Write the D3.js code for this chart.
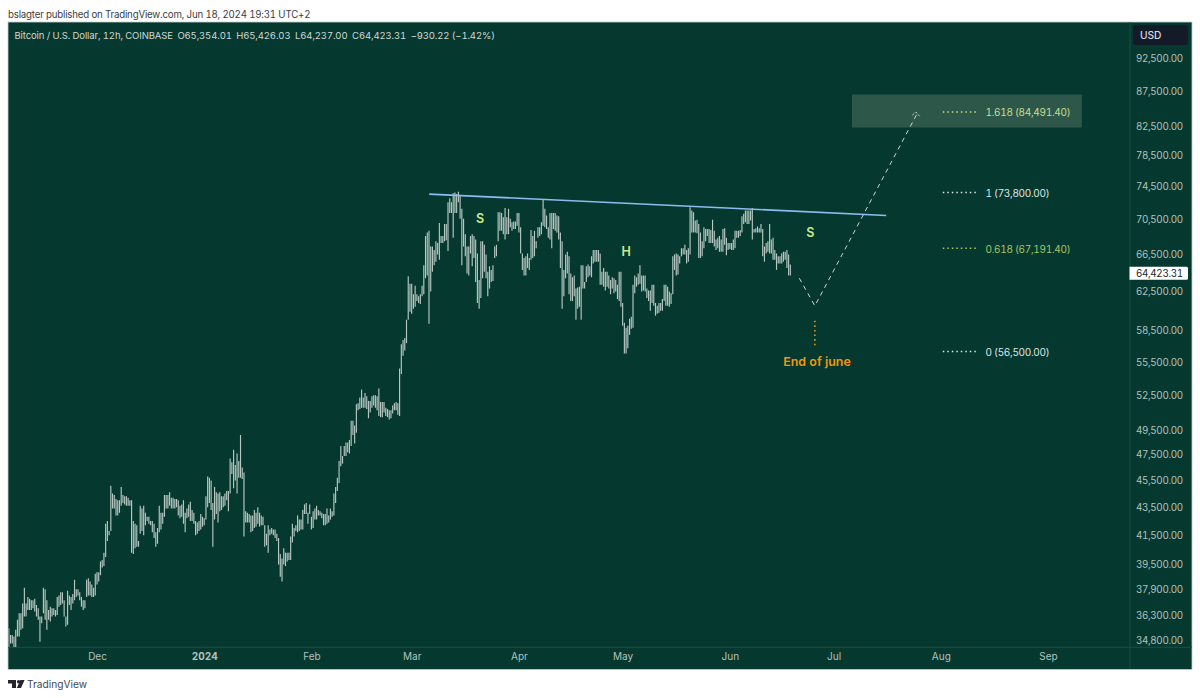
<!DOCTYPE html>
<html>
<head>
<meta charset="utf-8">
<script src="https://cdn.jsdelivr.net/npm/d3@7"></script>
<style>
html,body{margin:0;padding:0;background:#fff;}
svg{display:block;}
text{font-family:Inter,"Noto Sans",sans-serif;font-feature-settings:"tnum" 1;}
</style>
</head>
<body>
<svg id="c" width="1200" height="698"></svg>
<script>
// 12h bars, thousands of USD.
const lastBar = "2024-06-18T12:00Z";
const highs = [
35.5,35.1,35.1,35.0,35.4,36.0,36.4,36.4,37.0,38.0,
37.0,37.4,37.3,37.2,37.2,37.3,36.9,36.7,36.2,36.2,
38.0,37.9,37.2,36.6,36.8,36.7,36.7,36.6,37.4,37.5,
37.7,37.7,37.2,36.2,37.8,37.5,37.4,37.6,38.5,37.9,
37.9,37.7,37.4,37.2,37.2,38.5,38.6,38.4,38.2,38.0,
38.9,39.0,39.0,39.7,39.8,40.3,42.3,42.5,41.8,45.1,
44.5,44.4,44.1,44.0,44.0,45.0,44.4,44.3,44.3,44.2,
44.0,44.0,42.5,42.3,42.2,41.1,43.6,43.4,43.6,43.1,
42.8,42.8,42.5,42.5,42.3,41.7,42.0,43.6,43.1,43.1,
44.4,44.4,44.4,44.6,44.2,44.2,44.1,44.1,44.0,43.6,
43.7,44.0,43.1,43.4,43.7,43.9,43.3,43.1,42.5,42.4,42.5,
43.0,42.8,42.7,44.3,45.8,45.7,45.5,43.8,45.0,44.6,
44.5,44.6,44.3,44.3,44.5,44.7,44.7,47.2,46.9,47.9,
46.7,47.6,47.0,49.1,46.5,46.1,43.2,43.1,43.0,42.9,
42.9,43.3,43.1,43.5,43.1,42.9,42.8,42.2,41.6,42.2,
41.9,42.0,41.9,41.9,41.6,41.3,40.2,39.9,40.6,40.3,
40.3,40.3,41.4,42.3,42.0,42.2,42.9,42.6,42.6,43.3,
43.7,43.8,43.1,43.7,42.8,43.2,43.4,43.6,43.3,43.2,
43.1,43.0,43.0,43.4,42.9,43.4,43.2,44.5,45.0,45.7,
47.0,48.2,47.4,48.2,48.5,48.5,48.7,50.3,50.3,49.9,
51.7,51.8,52.3,53.0,52.3,52.7,52.4,52.0,52.0,52.4,
52.5,52.5,52.4,53.1,51.9,51.9,51.9,51.4,51.3,51.2,
51.2,51.6,51.8,51.9,51.8,54.9,57.2,57.6,57.8,59.6,64.1,
63.3,63.3,62.2,63.1,62.2,62.0,62.2,63.1,65.3,68.6,
69.0,69.2,67.4,67.4,67.0,68.0,67.8,70.1,68.6,68.6,
70.0,70.0,72.6,73.1,72.6,73.7,73.8,73.6,73.9,73.4,
71.8,70.6,68.8,67.4,67.4,68.6,68.8,68.6,68.2,66.6,
63.7,68.0,68.0,67.6,66.5,64.6,65.2,64.8,65.3,67.4,
67.6,71.4,71.4,71.3,70.8,71.9,70.8,71.8,70.6,70.2,
70.3,70.3,71.3,71.3,69.6,66.6,66.1,66.3,66.6,
66.1,69.3,68.6,69.2,68.0,69.6,69.6,70.2,72.9,71.8,
71.0,69.6,71.3,71.3,71.3,71.3,71.0,70.9,69.0,68.0,
64.8,66.5,66.8,66.3,64.4,64.0,64.2,62.8,62.9,63.0,
65.3,65.3,63.5,65.2,65.4,65.2,66.3,67.0,67.0,67.0,67.0,
66.6,64.6,65.0,64.6,64.6,64.2,63.7,64.0,63.9,63.7,
63.2,64.6,64.6,61.3,59.3,58.8,59.0,59.7,59.9,63.2,
64.2,64.0,64.4,65.3,64.2,64.2,64.2,62.8,62.6,
62.6,63.2,63.2,61.3,61.0,61.3,61.3,61.7,63.2,63.2,
63.0,62.5,62.3,66.3,66.5,66.6,66.5,66.3,67.2,
67.2,67.6,67.0,67.2,72.0,71.6,71.4,70.4,70.5,70.0,
69.0,68.0,69.6,69.4,69.4,69.4,69.3,70.5,69.2,
68.2,68.4,68.6,68.2,69.4,69.5,68.4,67.8,67.8,67.8,
68.2,69.2,69.2,69.2,69.3,70.9,71.2,71.6,71.6,71.6,
71.6,71.9,69.4,69.5,69.7,69.5,70.0,69.4,67.4,
67.8,68.0,70.0,68.2,68.4,67.0,66.6,66.3,66.3,66.6,
66.8,66.8,67.0,66.5,65.4
];
const lows = [
34.4,34.6,34.6,34.4,34.4,35.0,35.0,35.4,35.5,36.2,
36.2,36.6,36.6,36.6,36.7,36.5,36.2,36.0,34.7,35.8,
36.4,36.0,35.4,36.0,35.9,36.2,36.3,36.2,36.3,36.8,
36.9,37.0,36.2,35.6,35.7,36.9,36.6,37.0,37.2,37.4,
37.5,37.2,36.8,36.6,36.7,37.4,37.5,37.5,37.4,37.4,
37.5,38.2,38.4,38.8,39.3,39.4,40.0,41.1,41.5,41.8,
43.4,43.4,42.9,42.9,43.1,43.6,43.8,43.7,43.6,43.6,
43.6,40.3,40.2,40.6,40.7,40.7,41.6,41.8,41.5,42.2,
42.5,42.3,42.2,41.7,41.3,40.7,40.9,41.7,41.9,42.3,
42.8,43.4,43.4,43.6,43.4,43.4,43.4,43.5,42.9,42.7,
42.8,42.3,41.7,42.7,42.8,42.5,42.5,42.3,41.5,41.6,41.8,
41.9,42.1,42.2,42.6,43.5,43.8,43.3,40.7,42.6,43.0,
42.4,43.2,43.3,43.5,43.6,44.0,43.2,44.5,46.0,44.9,
45.5,44.5,45.7,45.7,45.6,41.4,42.4,42.4,42.4,41.7,
41.8,42.0,42.1,42.3,42.1,42.2,42.2,40.7,40.8,40.3,
41.5,41.6,41.5,41.3,41.1,39.5,38.7,38.4,39.5,39.4,
39.7,39.8,39.8,41.0,41.4,41.8,41.7,41.8,41.9,41.9,
43.0,43.0,42.3,43.0,41.9,42.0,42.6,42.6,42.9,42.9,
42.7,42.2,42.2,42.3,42.4,42.6,42.8,42.9,43.8,44.7,
45.3,46.6,46.8,47.4,47.4,47.7,47.6,48.2,49.1,48.4,
49.3,51.2,51.3,51.4,51.4,51.4,51.3,50.5,51.0,51.4,
51.6,51.4,51.2,50.7,50.6,50.6,51.0,50.7,50.6,50.4,
50.5,50.9,51.2,51.2,50.8,50.7,54.4,56.1,56.6,57.3,59.6,
60.4,60.2,60.7,60.9,61.5,61.3,61.2,62.0,62.2,63.9,
64.2,59.2,62.5,64.6,65.3,65.7,66.5,65.9,67.8,67.8,
68.0,68.1,66.9,71.3,71.3,68.4,71.3,71.3,72.6,70.6,
65.3,67.4,66.3,64.4,64.2,66.6,65.2,66.1,63.5,61.3,
60.7,61.8,63.9,64.6,63.9,62.0,62.8,63.5,63.6,66.1,
66.3,68.0,69.2,69.2,68.8,68.2,68.8,68.8,69.6,69.2,
69.4,69.4,69.8,69.0,66.6,64.8,64.2,64.2,65.0,
64.8,65.9,66.1,66.3,67.2,68.4,68.6,68.8,69.8,69.6,
69.4,68.4,68.2,67.2,69.4,69.2,69.0,68.2,65.0,60.7,
62.0,63.9,64.4,62.2,61.5,61.5,62.0,59.6,60.7,60.9,
59.6,62.8,62.8,63.5,64.0,64.2,64.0,65.5,65.7,65.7,65.7,
63.2,63.2,63.0,62.6,63.0,62.8,62.2,62.8,62.3,62.5,
61.7,61.5,60.9,59.0,56.3,56.3,56.8,58.1,58.7,58.8,
62.3,63.0,63.2,63.3,62.5,62.6,62.5,61.8,61.5,
60.5,61.3,61.0,60.0,60.2,60.3,60.5,60.5,61.5,61.0,
61.0,60.9,61.2,62.2,64.8,64.2,64.3,65.5,66.3,
66.5,66.5,65.5,65.7,66.5,69.0,69.0,69.0,68.9,66.1,
66.1,66.3,67.2,68.0,68.6,67.8,67.8,67.8,67.4,
67.0,67.2,66.8,66.8,66.8,67.6,66.4,67.0,67.1,67.0,
67.0,67.2,68.4,68.4,68.6,69.0,70.0,70.2,70.0,70.0,
70.4,68.2,69.0,69.0,69.0,69.0,69.0,66.3,65.7,
66.6,66.8,66.6,66.6,65.9,65.9,64.8,65.5,65.5,65.5,
65.7,65.9,65.0,64.2,64.2
];

const priceTicks = [92500,87500,82500,78500,74500,70500,66500,62500,58500,55500,52500,49500,47500,45500,43500,41500,39500,37900,36300,34800];
const timeTicks = ["2023-12-01","2024-01-01","2024-02-01","2024-03-01","2024-04-01","2024-05-01","2024-06-01","2024-07-01","2024-08-01","2024-09-01"];
const timeLabels = ["Dec","2024","Feb","Mar","Apr","May","Jun","Jul","Aug","Sep"];

const lastClose = 64423.31;
const fibLevels = [1.618,1,0.618,0];
const fibPrices = [84491.40,73800,67191.40,56500];
const fibColors = ["#c9de8e","#dfe6e3","#a9c566","#dfe6e3"];
const fibDates = ["2024-08-01T14:00Z","2024-08-11T19:00Z"];

const trendDates = ["2024-03-06T02:00Z","2024-07-16T05:00Z"];
const trendPrices = [73600,71000];
const pathDates = ["2024-06-21T02:00Z","2024-06-25T14:00Z","2024-07-25T05:00Z"];
const pathPrices = [63900,61000,84300];
const zoneDates = ["2024-07-06T07:00Z","2024-09-10T19:00Z"];
const zonePrices = [87000,82300];
const juneDate = "2024-06-25T14:00Z";
const junePrices = [59500,56900];
const patternNames = ["S","H","S"];
const patternDates = ["2024-03-20T18:00Z","2024-05-02T00:00Z","2024-06-24T06:00Z"];
const patternPrices = [70700,66800,69000];

const legendText = "Bitcoin / U.S. Dollar, 12h, COINBASE\u2002O65,354.01\u2002H65,426.03\u2002L64,237.00\u2002C64,423.31\u2002\u2212930.22 (\u22121.42%)";
const headerText = "bslagter published on TradingView.com, Jun 18, 2024 19:31 UTC+2";

const bg = "#05382f", axisCol = "#b4c2bd", lineCol = "#1f4d42";
const svg = d3.select("#c");
const x = d3.scaleUtc().domain([new Date("2023-12-01T00:00Z"), new Date("2024-09-01T00:00Z")]).range([97,1048]);
const y = d3.scaleLog().domain([92500,34800]).range([58,640]);

// frame
svg.append("rect").attr("x",8).attr("y",22).attr("width",1184).attr("height",647.5)
  .attr("fill",bg).attr("stroke","#c3cfca").attr("stroke-width",0.8);
svg.append("line").attr("x1",1130).attr("x2",1130).attr("y1",22).attr("y2",669).attr("stroke",lineCol).attr("stroke-width",1);
svg.append("line").attr("x1",8).attr("x2",1192).attr("y1",647.3).attr("y2",647.3).attr("stroke",lineCol).attr("stroke-width",1);
svg.append("defs").append("clipPath").attr("id","plot").append("rect")
  .attr("x",8.5).attr("y",23).attr("width",1121).attr("height",624);

// header + footer
svg.append("text").attr("x",8).attr("y",17.5).attr("font-size",9.7).attr("letter-spacing",-0.19).attr("fill","#3a3d44").text(headerText);
svg.append("text").attr("x",14.5).attr("y",39).attr("font-size",9.5).attr("letter-spacing",-0.12).attr("fill","#cfd9d5").attr("xml:space","preserve").text(legendText);
svg.append("path").attr("d","M8 680h8v8h-4v-4.6H8z M24.6 680l-3.6 8h-4.2l3.6-8z").attr("fill","#25262b");
svg.append("circle").attr("cx",18.6).attr("cy",681.8).attr("r",1.7).attr("fill","#25262b");
svg.append("text").attr("x",27).attr("y",688).attr("font-size",10.2).attr("fill","#44474e").text("TradingView");

// zone under everything
svg.append("rect").attr("x",x(new Date(zoneDates[0]))).attr("width",x(new Date(zoneDates[1]))-x(new Date(zoneDates[0])))
  .attr("y",y(zonePrices[0])).attr("height",y(zonePrices[1])-y(zonePrices[0])).attr("fill","#2c5749");

// bars
const last = new Date(lastBar).getTime();
const bars = highs.map((h,i)=>({t:new Date(last-(highs.length-1-i)*12*3600*1000),h:h*1000,l:lows[i]*1000}));
svg.append("g").attr("clip-path","url(#plot)").selectAll("line").data(bars).join("line")
  .attr("x1",d=>x(d.t)).attr("x2",d=>x(d.t)).attr("y1",d=>y(d.h)).attr("y2",d=>y(d.l))
  .attr("stroke","#b7c8c2").attr("stroke-width",1.15);

// trend line
const lineGen = d3.line().x(d=>x(new Date(d[0]))).y(d=>y(d[1]));
svg.append("path").attr("d",lineGen(d3.zip(trendDates,trendPrices))).attr("fill","none").attr("stroke","#8dbcf0").attr("stroke-width",1.7);

// projected path
svg.append("path").attr("d",lineGen(d3.zip(pathDates,pathPrices))).attr("fill","none")
  .attr("stroke","#cdd8d4").attr("stroke-width",1).attr("stroke-dasharray","4.5,4.2");
const tipX = x(new Date(pathDates[2])), tipY = y(pathPrices[2]);
svg.append("path").attr("d",`M${tipX-5},${tipY+1.8}L${tipX-1.3},${tipY-1.2}L${tipX+2.3},${tipY+3}`).attr("fill","none")
  .attr("stroke","#cdd8d4").attr("stroke-width",0.9).attr("stroke-dasharray","2.5,1.5");

// end of june
svg.append("line").attr("x1",x(new Date(juneDate))).attr("x2",x(new Date(juneDate)))
  .attr("y1",y(junePrices[0])).attr("y2",y(junePrices[1])).attr("stroke","#e8960f").attr("stroke-width",1.6).attr("stroke-dasharray","1.6,3");
svg.append("text").attr("x",817).attr("y",366).attr("text-anchor","middle").attr("font-size",12.4).attr("font-weight",600).attr("fill","#f7960a").text("End of june");

// pattern labels
svg.selectAll("text.pat").data(patternNames).join("text").attr("class","pat")
  .attr("x",(d,i)=>x(new Date(patternDates[i]))).attr("y",(d,i)=>y(patternPrices[i])+4.5).attr("text-anchor","middle")
  .attr("font-size",12.5).attr("font-weight",600).attr("fill","#cfe88e").text(d=>d);

// fib levels
fibLevels.forEach((lv,i)=>{
  const py = y(fibPrices[i]);
  svg.append("line").attr("x1",x(new Date(fibDates[0]))).attr("x2",x(new Date(fibDates[1]))).attr("y1",py).attr("y2",py)
    .attr("stroke",fibColors[i]).attr("stroke-width",1.5).attr("stroke-dasharray","1.5,3");
  svg.append("text").attr("x",985.5).attr("y",py+4.3).attr("font-size",10).attr("letter-spacing",-0.3).attr("fill",fibColors[i])
    .text(`${lv} (${d3.format(",.2f")(fibPrices[i])})`);
});

// axes
const ya = svg.append("g").attr("transform","translate(1136,0)")
  .call(d3.axisRight(y).tickValues(priceTicks).tickSize(0).tickPadding(0).tickFormat(d3.format(",.2f")));
ya.select(".domain").remove();
ya.selectAll("text").attr("fill",axisCol).attr("font-size",9.8).attr("letter-spacing",-0.33).attr("font-family","Inter");
const xa = svg.append("g").attr("transform","translate(0,653)")
  .call(d3.axisBottom(x).tickValues(timeTicks.map(d=>new Date(d+"T00:00Z"))).tickSize(0).tickPadding(0).tickFormat((d,i)=>timeLabels[i]));
xa.select(".domain").remove();
xa.selectAll("text").attr("fill",axisCol).attr("font-size",10).attr("font-family","Inter")
  .attr("font-weight",(d,i)=>timeLabels[i]==="2024"?700:400);

// USD badge
svg.append("rect").attr("x",1133).attr("y",25).attr("width",55).attr("height",20).attr("rx",3).attr("fill","#141a28");
svg.append("text").attr("x",1140).attr("y",38.5).attr("font-size",10.2).attr("font-weight",500).attr("fill","#d5dbe0").text("USD");

// last price tag
const ly = y(lastClose);
svg.append("path").attr("d",`M1129.5 ${ly-6.5}h57a1.5 1.5 0 0 1 1.5 1.5v10a1.5 1.5 0 0 1 -1.5 1.5h-57z`).attr("fill","#fff");
svg.append("text").attr("x",1136).attr("y",ly+3.7).attr("font-size",9.8).attr("letter-spacing",-0.33).attr("fill","#23262c").text(d3.format(",.2f")(lastClose));
</script>
</body>
</html>
